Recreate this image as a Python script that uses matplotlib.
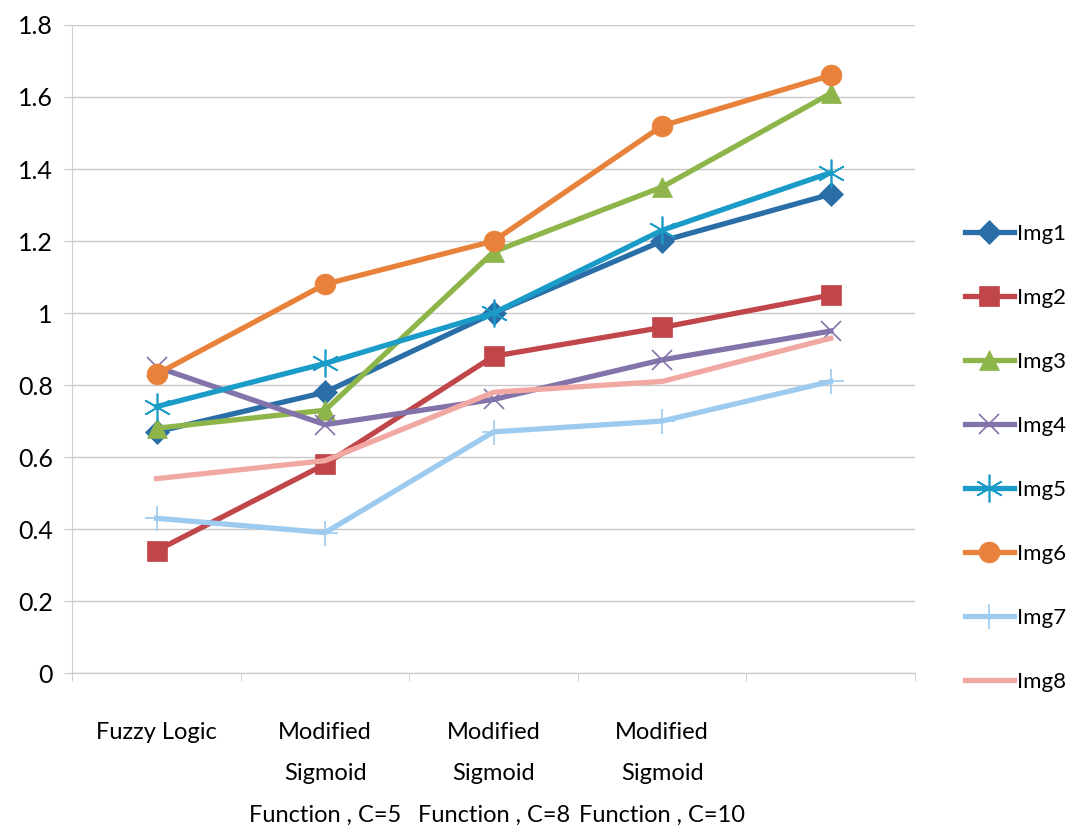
import matplotlib.pyplot as plt

plt.rcParams['font.family'] = ['Lato', 'DejaVu Sans']

categories = ['Fuzzy Logic',
              'Modified\nSigmoid\nFunction , C=5',
              'Modified\nSigmoid\nFunction , C=8',
              'Modified\nSigmoid\nFunction , C=10',
              '']

img1 = [0.67, 0.78, 1.00, 1.20, 1.33]
img2 = [0.34, 0.58, 0.88, 0.96, 1.05]
img3 = [0.68, 0.73, 1.17, 1.35, 1.61]
img4 = [0.85, 0.69, 0.76, 0.87, 0.95]
img5 = [0.74, 0.86, 1.00, 1.23, 1.39]
img6 = [0.83, 1.08, 1.20, 1.52, 1.66]
img7 = [0.43, 0.39, 0.67, 0.70, 0.81]
img8 = [0.54, 0.59, 0.78, 0.81, 0.93]

series = [
    ('Img1', img1, '#2a6ea8', 'D', 12),
    ('Img2', img2, '#c0464a', 's', 14),
    ('Img3', img3, '#8db54a', '^', 14),
    ('Img4', img4, '#8273aa', 'x', 14),
    ('Img5', img5, '#1a9bc8', (6, 2, 0), 20),
    ('Img6', img6, '#e8823a', 'o', 15),
    ('Img7', img7, '#9ccbef', '+', 18),
    ('Img8', img8, '#f2a8a2', 'None', 0),
]

fig = plt.figure(figsize=(10.79, 8.33), dpi=100)
ax = fig.add_axes([0.067, 0.192, 0.781, 0.778])

x = list(range(len(categories)))
for name, vals, color, marker, ms in series:
    thin = marker in ('x', '+', (6, 2, 0))
    ax.plot(x, vals, color=color, linewidth=3.8, marker=marker,
            markersize=ms, markeredgewidth=1.2 if thin else 0.5,
            markeredgecolor=color, label=name)

ax.set_xlim(-0.5, 4.5)
ax.set_ylim(0, 1.8)
ax.set_yticks([0, 0.2, 0.4, 0.6, 0.8, 1.0, 1.2, 1.4, 1.6, 1.8])
ax.set_yticklabels(['0', '0.2', '0.4', '0.6', '0.8', '1', '1.2', '1.4', '1.6', '1.8'])
ax.set_xticks(x)
ax.set_xticklabels(categories, linespacing=2.2, fontsize=17, va='top')
ax.tick_params(axis='x', length=0, pad=35)
ax.tick_params(axis='y', length=6, color='#c8c8c8', labelsize=18, pad=8)

# category boundary ticks along the bottom
ax.set_xticks([-0.5, 0.5, 1.5, 2.5, 3.5, 4.5], minor=True)
ax.tick_params(axis='x', which='minor', length=6, color='#c8c8c8')

ax.grid(axis='y', color='#c8c8c8', linewidth=1)
ax.set_axisbelow(True)
for side in ('top', 'right'):
    ax.spines[side].set_visible(False)
ax.spines['left'].set_color('#d0d0d0')
ax.spines['bottom'].set_color('#c8c8c8')

fig.legend(loc='upper left', bbox_to_anchor=(0.894, 0.731), frameon=False,
           fontsize=16, labelspacing=1.98, handlelength=2.2, handletextpad=0.15,
           borderaxespad=0, borderpad=0)

fig.savefig('out.png', dpi=100, facecolor='white')
